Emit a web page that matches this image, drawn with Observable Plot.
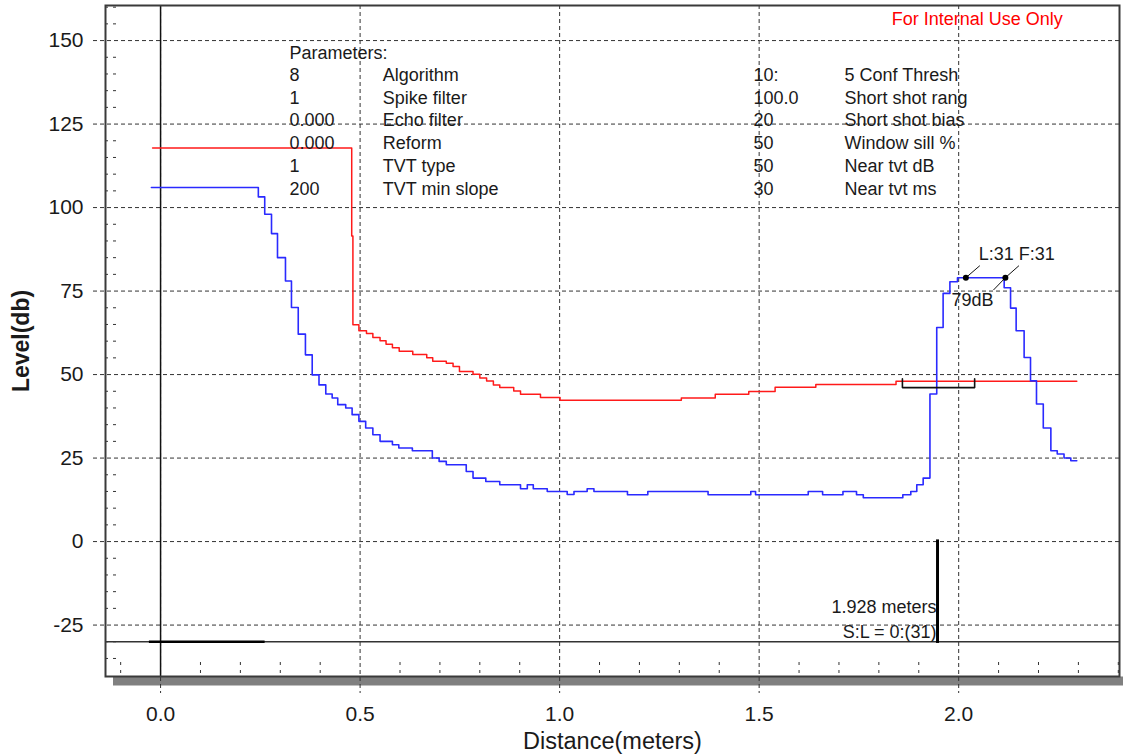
<!DOCTYPE html>
<html><head><meta charset="utf-8">
<script src="https://cdn.jsdelivr.net/npm/d3@7"></script>
<script src="https://cdn.jsdelivr.net/npm/@observablehq/plot@0.6"></script>
<style>body{margin:0;background:#fff;} #chart svg{display:block;}</style>
</head><body><div id="chart"></div>
<script>
// ---- data ----
const blueX = [-0.023, 0.245, 0.261, 0.278, 0.293, 0.313, 0.328, 0.345, 0.363, 0.380, 0.397, 0.414, 0.430, 0.444, 0.464, 0.480, 0.497, 0.514, 0.532, 0.550, 0.581, 0.597, 0.631, 0.681, 0.698, 0.716, 0.766, 0.783, 0.815, 0.850, 0.902, 0.919, 0.934, 0.969, 1.019, 1.036, 1.069, 1.086, 1.170, 1.221, 1.372, 1.479, 1.491, 1.623, 1.659, 1.710, 1.744, 1.761, 1.860, 1.880, 1.895, 1.911, 1.928, 1.945, 1.961, 1.978, 1.997, 2.114, 2.130, 2.144, 2.164, 2.180, 2.195, 2.212, 2.231, 2.247, 2.264, 2.281, 2.296];
const blueY = [106.0, 103.2, 98.0, 92.2, 85.0, 78.0, 70.1, 62.1, 55.9, 49.9, 46.9, 44.2, 43.0, 41.0, 40.0, 38.0, 36.0, 34.0, 32.0, 30.0, 29.0, 28.0, 27.2, 25.0, 24.0, 23.0, 21.0, 19.0, 18.0, 17.0, 15.8, 17.0, 15.8, 15.0, 14.1, 15.0, 15.8, 15.0, 14.0, 15.0, 14.0, 15.0, 14.0, 15.0, 14.0, 15.0, 14.0, 13.1, 14.0, 15.0, 17.0, 19.0, 44.2, 64.1, 74.3, 77.8, 79.0, 76.0, 69.9, 63.1, 55.1, 48.1, 41.2, 34.0, 27.2, 26.2, 25.0, 24.2, 24.2];
const redX = [-0.020, 0.479, 0.482, 0.497, 0.516, 0.532, 0.550, 0.565, 0.581, 0.598, 0.632, 0.667, 0.682, 0.716, 0.733, 0.749, 0.783, 0.800, 0.817, 0.834, 0.850, 0.885, 0.902, 0.952, 1.001, 1.305, 1.390, 1.474, 1.540, 1.642, 1.843, 2.296];
const redY = [117.8, 91.5, 64.9, 63.1, 62.3, 61.1, 60.1, 59.1, 58.0, 57.0, 56.0, 55.0, 54.0, 53.4, 52.4, 50.9, 50.1, 49.0, 48.1, 46.9, 46.1, 45.1, 44.1, 43.1, 42.3, 43.0, 44.1, 44.9, 46.2, 47.0, 48.0, 48.0];

const xTicks = [0, 0.5, 1, 1.5, 2];
const yTicks = [-25, 0, 25, 50, 75, 100, 125, 150];
const xMinor = [-0.1, 0.1, 0.2, 0.3, 0.4, 0.6, 0.7, 0.8, 0.9, 1.1, 1.2, 1.3, 1.4, 1.6, 1.7, 1.8, 1.9, 2.1, 2.2, 2.3, 2.4];
const yMinor = [-35, -30, -20, -15, -10, -5, 5, 10, 15, 20, 30, 35, 40, 45, 55, 60, 65, 70, 80, 85, 90, 95, 105, 110, 115, 120, 130, 135, 140, 145, 155, 160];

const paramValues = ["8", "1", "0.000", "0.000", "1", "200"];
const paramNames = ["Algorithm", "Spike filter", "Echo filter", "Reform", "TVT type", "TVT min slope"];
const param2Values = ["10:", "100.0", "20", "50", "50", "30"];
const param2Names = ["5 Conf Thresh", "Short shot rang", "Short shot bias", "Window sill %", "Near tvt dB", "Near tvt ms"];

const baseLevel = -30;            // bottom reference line
const blankX = [-0.028, 0.262];   // thick blanking segment
const markerX = 1.947;            // echo marker
const markerLabel = ["1.928 meters", "S:L = 0:(31)"];
const peakX = [2.018, 2.117];
const peakLevel = 79;
const bracketX = [1.859, 2.040];
const bracketLevel = 46.1, bracketTop = 48.7;

// ---- derived tables ----
const blue = blueX.map((x, i) => ({x, y: blueY[i]}));
const red = redX.map((x, i) => ({x, y: redY[i]}));
const bracket = [
  {x: bracketX[0], y: bracketTop}, {x: bracketX[0], y: bracketLevel},
  {x: bracketX[1], y: bracketLevel}, {x: bracketX[1], y: bracketTop}
];
const leaders = [
  {x1: peakX[0], y1: peakLevel, x2: 2.053, y2: 82.6},
  {x1: peakX[1], y1: peakLevel, x2: 2.151, y2: 82.6},
  {x1: peakX[1], y1: peakLevel, x2: 2.087, y2: 75.3}
];

const grid = {stroke: "#333", strokeWidth: 1, strokeDasharray: "4,3"};
const font = "'Liberation Sans', Arial, Helvetica, sans-serif";

const chart = Plot.plot({
  width: 1123,
  height: 755,
  marginLeft: 105,
  marginRight: 4,
  marginTop: 5,
  marginBottom: 79,
  style: {fontFamily: font, fontSize: "18px", background: "white", color: "#1a1a1a"},
  x: {domain: [-0.138, 2.403], axis: null},
  y: {domain: [-40.4, 160.5], axis: null},
  marks: [
    Plot.frame({fill: "white"}),
    // drop shadow under the plot frame
    Plot.ruleY([-40.4], {stroke: "#808080", strokeWidth: 9, dy: 4.5, insetLeft: 8, insetRight: -10}),
    // major dashed grid
    Plot.ruleY(yTicks, {...grid, insetLeft: -12}),
    Plot.ruleX(xTicks, {...grid, insetBottom: -17}),
    // minor dotted ticks
    Plot.ruleY(yMinor, {stroke: "#333", strokeDasharray: "3,5", insetRight: 1002}),
    Plot.ruleX(xMinor, {stroke: "#333", strokeDasharray: "3,5", insetTop: 657}),
    // solid reference lines
    Plot.ruleX([0], {stroke: "#111", strokeWidth: 1.5}),
    Plot.ruleY([baseLevel], {stroke: "#333", strokeWidth: 1.5}),
    Plot.ruleY([baseLevel], {x1: blankX[0], x2: blankX[1], stroke: "#000", strokeWidth: 2.5}),
    Plot.ruleX([markerX], {y1: 0.5, y2: baseLevel - 0.5, stroke: "#000", strokeWidth: 3}),
    // curves
    Plot.line(red, {x: "x", y: "y", curve: "step-after", stroke: "#ff1a1a", strokeWidth: 1.5}),
    Plot.line(blue, {x: "x", y: "y", curve: "step-after", stroke: "#2a2aff", strokeWidth: 1.6}),
    Plot.line(bracket, {x: "x", y: "y", stroke: "#111", strokeWidth: 1.6}),
    // peak annotation
    Plot.link(leaders, {x1: "x1", y1: "y1", x2: "x2", y2: "y2", stroke: "#111", strokeWidth: 1}),
    Plot.dot(peakX, {x: d => d, y: peakLevel, r: 3, fill: "#000", stroke: "none"}),
    Plot.text(["L:31 F:31"], {text: d => d, x: 2.050, y: 86.1, textAnchor: "start", fontSize: 18, fill: "#1a1a1a"}),
    Plot.text(["79dB"], {text: d => d, x: 1.982, y: 72.2, textAnchor: "start", fontSize: 18, fill: "#1a1a1a"}),
    // marker labels
    Plot.text(markerLabel, {text: d => d, x: markerX, y: (d, i) => -19.7 - 7.5 * i, textAnchor: "end", dx: -1, fontSize: 18, fill: "#1a1a1a"}),
    // parameters block
    Plot.text(["Parameters:"], {text: d => d, x: 0.323, y: 146.3, textAnchor: "start", fontSize: 18, fill: "#1a1a1a"}),
    Plot.text(paramValues, {text: d => d, x: 0.323, y: (d, i) => 139.7 - 6.82 * i, textAnchor: "start", fontSize: 18, fill: "#1a1a1a"}),
    Plot.text(paramNames, {text: d => d, x: 0.557, y: (d, i) => 139.7 - 6.82 * i, textAnchor: "start", fontSize: 18, fill: "#1a1a1a"}),
    Plot.text(param2Values, {text: d => d, x: 1.486, y: (d, i) => 139.7 - 6.82 * i, textAnchor: "start", fontSize: 18, fill: "#1a1a1a"}),
    Plot.text(param2Names, {text: d => d, x: 1.714, y: (d, i) => 139.7 - 6.82 * i, textAnchor: "start", fontSize: 18, fill: "#1a1a1a"}),
    Plot.text(["For Internal Use Only"], {text: d => d, x: 1.832, y: 156.3, textAnchor: "start", fontSize: 18, fill: "#ff0000"}),
    // axes
    Plot.axisX(xTicks, {tickSize: 0, tickPadding: 30, tickFormat: d3.format(".1f"), fontSize: 21, label: null}),
    Plot.axisY(yTicks, {tickSize: 0, tickPadding: 22, tickFormat: d => String(d), fontSize: 21, label: null}),
    Plot.text(["Distance(meters)"], {text: d => d, frameAnchor: "bottom", dy: 65, textAnchor: "middle", lineAnchor: "middle", fontSize: 23.5, fill: "#1a1a1a"}),
    Plot.text(["Level(db)"], {text: d => d, frameAnchor: "left", dx: -84, rotate: -90, textAnchor: "middle", lineAnchor: "middle", fontSize: 23, fontWeight: "bold", fill: "#1a1a1a"}),
    Plot.frame({stroke: "#3a3a3a", strokeWidth: 2})
  ]
});
document.getElementById("chart").appendChild(chart);
</script>
</body></html>
